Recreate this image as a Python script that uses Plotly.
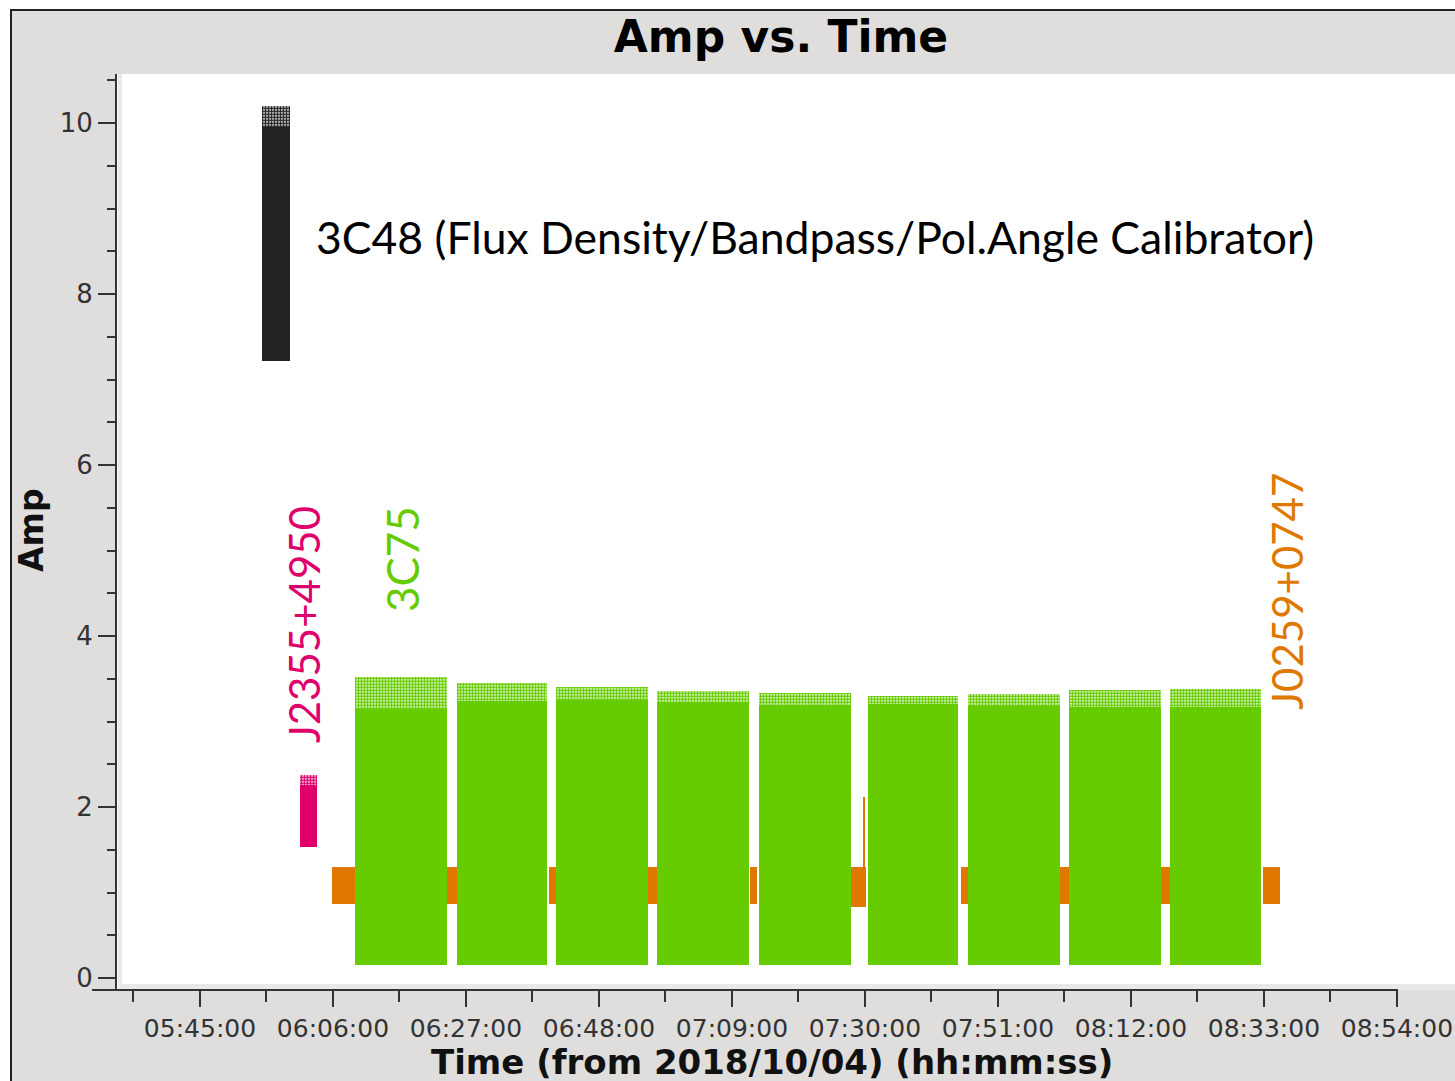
import pandas as pd
import plotly.graph_objects as go

DAY = "2018-10-04 "

# ---------------- data ----------------
# 3C48 (flux density / bandpass / pol. angle calibrator)
c48_start = ["05:54:47"]
c48_end = ["05:59:13"]
c48_low = [7.22]
c48_top = [9.95]
c48_fringe = [10.20]

# J2355+4950
j2355_start = ["06:00:47"]
j2355_end = ["06:03:28"]
j2355_low = [1.53]
j2355_top = [2.26]
j2355_fringe = [2.37]

# 3C75 target scans
c75_start = ["06:09:28", "06:25:35", "06:41:13", "06:57:09", "07:13:16",
             "07:30:28", "07:46:16", "08:02:13", "08:18:09"]
c75_end = ["06:24:00", "06:39:47", "06:55:44", "07:11:41", "07:27:47",
           "07:44:41", "08:00:47", "08:16:44", "08:32:32"]
c75_low = [0.15, 0.15, 0.15, 0.15, 0.15, 0.15, 0.15, 0.15, 0.15]
c75_top = [3.15, 3.24, 3.25, 3.23, 3.19, 3.21, 3.18, 3.17, 3.17]
c75_fringe = [3.52, 3.45, 3.40, 3.36, 3.33, 3.30, 3.32, 3.37, 3.38]

# J0259+0747 phase calibrator scans
j0259_start = ["06:05:51", "06:24:00", "06:40:06", "06:55:44", "07:11:51",
               "07:27:38", "07:45:09", "08:00:47", "08:16:44", "08:32:50"]
j0259_end = ["06:09:28", "06:25:35", "06:41:13", "06:57:09", "07:12:57",
             "07:30:09", "07:46:16", "08:02:13", "08:18:09", "08:35:32"]
j0259_low = [0.87, 0.87, 0.87, 0.87, 0.87, 0.83, 0.87, 0.87, 0.87, 0.87]
j0259_top = [1.30, 1.30, 1.30, 1.30, 1.30, 1.30, 1.30, 1.30, 1.30, 1.30]
j0259_spike_start = ["07:29:42"]
j0259_spike_end = ["07:29:58"]
j0259_spike_top = [2.12]

x_ticks_start = "05:45:00"
x_range = ["05:31:54", "09:03:10"]
y_range = [-0.14, 10.573]

BLACK = "#222222"
MAGENTA = "#E0006B"
GREEN = "#66CC00"
ORANGE = "#E07800"

# ---------------- layout helpers (pixel -> paper) ----------------
W, H = 1455, 1081
L, R, T, B = 117, 0, 74, 91
PW, PH = W - L - R, H - T - B


def px(xp):
    return (xp - L) / PW


def py(yp):
    return (H - B - yp) / PH


def blocks(start, end):
    s = pd.to_datetime([DAY + t for t in start])
    e = pd.to_datetime([DAY + t for t in end])
    mid = s + (e - s) / 2
    width = [(b - a).total_seconds() * 1000.0 for a, b in zip(s, e)]
    return mid, width


fig = go.Figure()


def add_block(start, end, low, top, color, name):
    mid, width = blocks(start, end)
    fig.add_trace(go.Bar(
        x=mid, y=[t - l for t, l in zip(top, low)], base=low, width=width,
        marker=dict(color=color, line=dict(width=0)), name=name,
        showlegend=False))


def add_fringe(start, end, top, fringe, color, name):
    mid, width = blocks(start, end)
    fig.add_trace(go.Bar(
        x=mid, y=[f - t for f, t in zip(fringe, top)], base=top, width=width,
        marker=dict(color=color, line=dict(width=0),
                    pattern=dict(shape=".", size=3, solidity=0.7,
                                 fillmode="replace")),
        name=name, showlegend=False))


add_block(j0259_start, j0259_end, j0259_low, j0259_top, ORANGE, "J0259+0747")
add_block(j0259_spike_start, j0259_spike_end, j0259_top[5:6], j0259_spike_top,
          ORANGE, "J0259+0747")
add_block(c75_start, c75_end, c75_low, c75_top, GREEN, "3C75")
add_fringe(c75_start, c75_end, c75_top, c75_fringe, GREEN, "3C75")
add_block(c48_start, c48_end, c48_low, c48_top, BLACK, "3C48")
add_fringe(c48_start, c48_end, c48_top, c48_fringe, BLACK, "3C48")
add_block(j2355_start, j2355_end, j2355_low, j2355_top, MAGENTA, "J2355+4950")
add_fringe(j2355_start, j2355_end, j2355_top, j2355_fringe, MAGENTA,
           "J2355+4950")

GRAY = "#dfdedc"
AX = "#333333"
XTICKFONT = dict(family="DejaVu Sans", size=25, color=AX)
YTICKFONT = dict(family="DejaVu Sans", size=26, color=AX)

fig.update_layout(
    width=W, height=H,
    margin=dict(l=L, r=R, t=T, b=B, pad=0),
    paper_bgcolor=GRAY, plot_bgcolor="white",
    barmode="overlay", bargap=0,
    title=dict(text="Amp vs. Time", x=px(781), xref="paper", xanchor="center",
               y=1 - 37 / H, yref="container", yanchor="middle",
               font=dict(family="DejaVu Sans", size=44, color="black",
                         weight="bold")),
    xaxis=dict(type="date", range=[DAY + x_range[0], DAY + x_range[1]],
               tickmode="linear", tick0=DAY + x_ticks_start, dtick=21 * 60000,
               tickformat="%H:%M:%S", ticks="outside", ticklen=16,
               tickwidth=2, tickcolor=AX, tickfont=XTICKFONT,
               showgrid=False, zeroline=False, showline=False,
               minor=dict(dtick=10.5 * 60000, tick0=DAY + x_ticks_start,
                          ticks="outside", ticklen=11, tickwidth=2,
                          tickcolor=AX, showgrid=False),
               fixedrange=True),
    yaxis=dict(range=y_range, tickmode="linear", tick0=0, dtick=2,
               ticks="outside", ticklen=17, tickwidth=2, tickcolor=AX,
               tickfont=YTICKFONT, showline=True, linewidth=2, linecolor=AX,
               showgrid=False, zeroline=False,
               minor=dict(dtick=0.5, ticks="outside", ticklen=8,
                          tickwidth=2, tickcolor=AX, showgrid=False),
               fixedrange=True),
)

shapes = []
# light strips between axes and the white plotting canvas
shapes.append(dict(type="rect", xref="paper", yref="paper", x0=px(118),
                   x1=px(122), y0=0, y1=1, fillcolor="#e9e9e9",
                   line=dict(width=0), layer="below"))
shapes.append(dict(type="rect", xref="paper", yref="paper", x0=px(118),
                   x1=1, y0=py(990), y1=py(984), fillcolor="#e9e9e9",
                   line=dict(width=0), layer="below"))
# x axis line
shapes.append(dict(type="line", xref="paper", yref="paper", x0=px(92),
                   x1=px(1398), y0=py(990), y1=py(990),
                   line=dict(color=AX, width=2)))
# outer white margin and black frame
shapes.append(dict(type="rect", xref="paper", yref="paper", x0=px(0),
                   x1=px(10), y0=py(H), y1=py(0), fillcolor="white",
                   line=dict(width=0), layer="below"))
shapes.append(dict(type="rect", xref="paper", yref="paper", x0=px(0),
                   x1=px(W), y0=py(9), y1=py(0), fillcolor="white",
                   line=dict(width=0), layer="below"))
shapes.append(dict(type="line", xref="paper", yref="paper", x0=px(11),
                   x1=px(11), y0=py(H), y1=py(10),
                   line=dict(color="#222222", width=2)))
shapes.append(dict(type="line", xref="paper", yref="paper", x0=px(10),
                   x1=px(W), y0=py(10), y1=py(10),
                   line=dict(color="#222222", width=2)))
fig.update_layout(shapes=shapes)

LBL = "Lato"
annotations = [
    dict(text="Time (from 2018/10/04) (hh:mm:ss)", xref="paper",
         yref="paper", x=px(772), y=py(1062), xanchor="center",
         yanchor="middle", showarrow=False,
         font=dict(family="DejaVu Sans", size=34, color="#111111",
                   weight="bold")),
    dict(text="Amp", xref="paper", yref="paper", x=px(31), y=py(530),
         xanchor="center", yanchor="middle", textangle=-90,
         showarrow=False,
         font=dict(family="DejaVu Sans", size=33, color="#111111",
                   weight="bold")),
    dict(text="3C48 (Flux Density/Bandpass/Pol.Angle Calibrator)",
         xref="x", yref="y", x=DAY + "07:22:06", y=8.67, xanchor="center",
         yanchor="middle", showarrow=False,
         font=dict(family=LBL, size=44.5, color="black")),
    dict(text="J2355+4950", xref="x", yref="y", x=DAY + "06:01:25", y=4.14,
         xanchor="center", yanchor="middle", textangle=-90, showarrow=False,
         font=dict(family=LBL, size=42, color=MAGENTA)),
    dict(text="3C75", xref="x", yref="y", x=DAY + "06:16:54", y=4.90,
         xanchor="center", yanchor="middle", textangle=-90, showarrow=False,
         font=dict(family=LBL, size=44, color=GREEN)),
    dict(text="J0259+0747", xref="x", yref="y", x=DAY + "08:36:38", y=4.53,
         xanchor="center", yanchor="middle", textangle=-90, showarrow=False,
         font=dict(family=LBL, size=42, color=ORANGE)),
]
fig.update_layout(annotations=annotations)

fig.write_html("out.html")
